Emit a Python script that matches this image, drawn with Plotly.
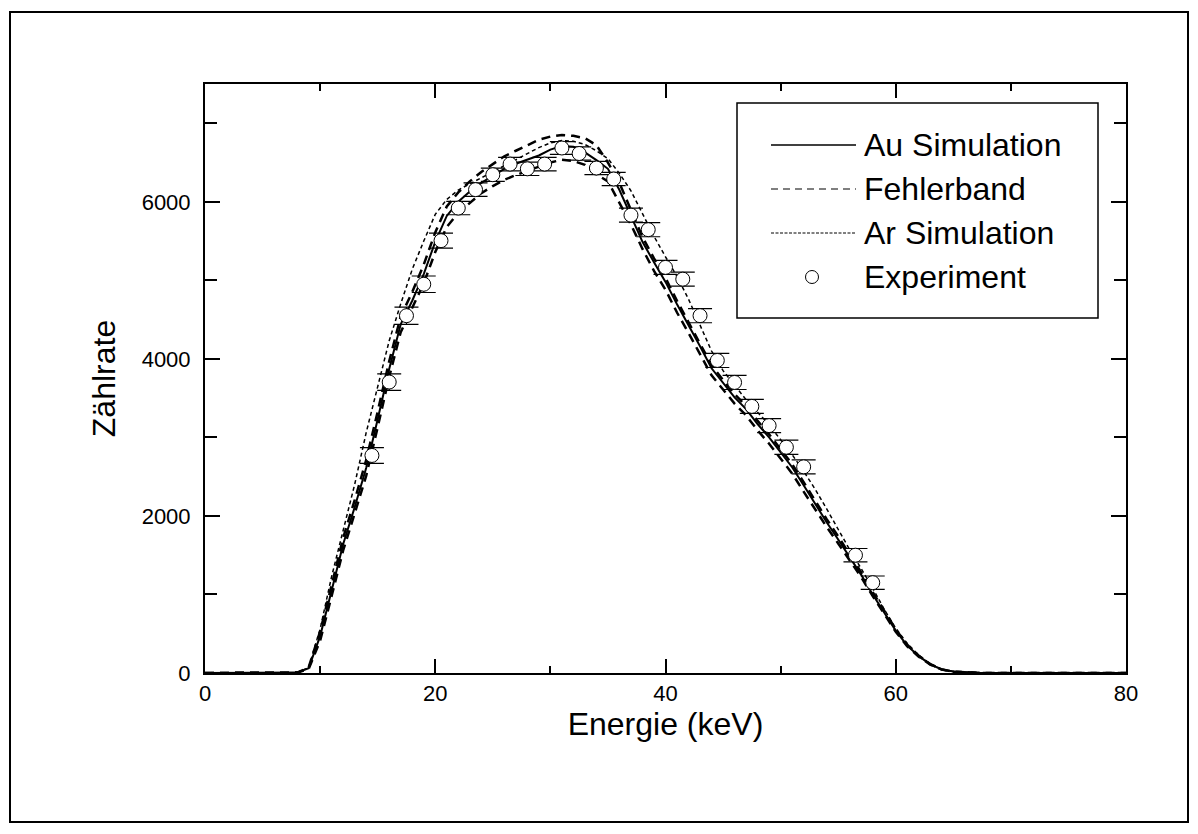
import plotly.graph_objects as go

# ---- data ----
energy = list(range(0, 81))

au_sim = [0, 0, 0, 0, 0, 0, 0, 8, 5, 60, 470, 1050, 1640, 2110, 2610, 3230, 3870, 4440, 4740, 5080,
          5490, 5820, 6000, 6130, 6240, 6330, 6420, 6485, 6540, 6590, 6665, 6710, 6700, 6630, 6530, 6420,
          6150, 5830, 5490, 5230, 4980, 4695, 4430, 4160, 3880, 3690, 3510, 3360, 3170, 3000, 2810,
          2620, 2390, 2150, 1920, 1700, 1480, 1250, 1000, 770, 540, 350, 215, 110, 45, 18, 8, 3,
          0, 0, 0, 0, 0, 0, 0, 0, 0, 0, 0, 0, 0]

band_upper = [0, 0, 0, 0, 0, 0, 0, 8, 5, 70, 530, 1120, 1720, 2200, 2710, 3330, 3970, 4540, 4850, 5200,
              5610, 5940, 6120, 6260, 6380, 6480, 6580, 6650, 6720, 6790, 6830, 6850, 6840, 6810, 6720, 6500,
              6240, 5900, 5550, 5280, 5030, 4740, 4470, 4200, 3920, 3730, 3550, 3400, 3210, 3040, 2850,
              2660, 2430, 2190, 1960, 1740, 1510, 1280, 1030, 790, 555, 360, 220, 113, 46, 18, 8, 3,
              0, 0, 0, 0, 0, 0, 0, 0, 0, 0, 0, 0, 0]

band_lower = [0, 0, 0, 0, 0, 0, 0, 8, 5, 50, 410, 980, 1560, 2030, 2510, 3130, 3770, 4340, 4640, 4960,
              5360, 5680, 5860, 5990, 6110, 6200, 6280, 6340, 6390, 6440, 6500, 6535, 6520, 6470, 6350, 6260,
              5990, 5710, 5400, 5120, 4880, 4590, 4330, 4060, 3790, 3610, 3430, 3280, 3090, 2920, 2730,
              2540, 2310, 2080, 1860, 1650, 1440, 1220, 980, 750, 525, 340, 208, 107, 44, 17, 8, 3,
              0, 0, 0, 0, 0, 0, 0, 0, 0, 0, 0, 0, 0]

ar_sim = [0, 0, 0, 0, 0, 0, 0, 8, 5, 70, 560, 1230, 1820, 2400, 3060, 3660, 4230, 4700, 5140, 5500,
          5840, 6030, 6150, 6230, 6300, 6380, 6460, 6540, 6620, 6690, 6750, 6780, 6770, 6730, 6650, 6550,
          6360, 6140, 5850, 5560, 5300, 5050, 4760, 4420, 4100, 3850, 3660, 3480, 3320, 3160, 2970,
          2780, 2570, 2340, 2090, 1830, 1570, 1330, 1080, 810, 570, 375, 228, 116, 48, 19, 8, 3,
          0, 0, 0, 0, 0, 0, 0, 0, 0, 0, 0, 0, 0]

exp_energy = [14.5, 16, 17.5, 19, 20.5, 22, 23.5, 25, 26.5, 28, 29.5, 31, 32.5, 34, 35.5, 37, 38.5,
              40, 41.5, 43, 44.5, 46, 47.5, 49, 50.5, 52, 56.5, 58]
exp_counts = [2770, 3705, 4550, 4950, 5505, 5920, 6155, 6345, 6480, 6420, 6480, 6685, 6615, 6430, 6290,
              5830, 5645, 5165, 5015, 4550, 3980, 3700, 3395, 3150, 2875, 2625, 1500, 1150]
exp_err = [100, 105, 110, 105, 95, 85, 85, 85, 85, 85, 85, 80, 85, 85, 85, 90, 90, 90, 90, 90, 90,
           90, 90, 90, 90, 90, 85, 85]

x_ticks = [0, 20, 40, 60, 80]
y_ticks = [0, 2000, 4000, 6000]

legend_labels = ["Au Simulation", "Fehlerband", "Ar Simulation", "Experiment"]

FONT = "Liberation Sans, Arial, sans-serif"

fig = go.Figure()

fig.add_trace(go.Scatter(x=energy, y=ar_sim, mode="lines", name=legend_labels[2],
                         line=dict(color="black", width=1.5, dash="4px,3px"), showlegend=False))
fig.add_trace(go.Scatter(x=energy, y=band_upper, mode="lines", name=legend_labels[1],
                         line=dict(color="black", width=2.5, dash="9px,6px"), showlegend=False))
fig.add_trace(go.Scatter(x=energy, y=band_lower, mode="lines", name=legend_labels[1],
                         line=dict(color="black", width=2.5, dash="9px,6px"), showlegend=False))
fig.add_trace(go.Scatter(x=energy, y=au_sim, mode="lines", name=legend_labels[0],
                         line=dict(color="black", width=2), showlegend=False))
fig.add_trace(go.Scatter(x=exp_energy, y=exp_counts, mode="markers", name=legend_labels[3],
                         marker=dict(symbol="circle", size=14, color="white",
                                     line=dict(color="black", width=1)),
                         error_y=dict(type="data", array=exp_err, color="black", thickness=1.2, width=12),
                         showlegend=False))

# ---- custom legend (box, samples, texts) ----
def px_x(p):
    return (p - 205) / 921.0

def px_y(p):
    return (673 - p) / 589.0

shapes = []
shapes.append(dict(type="rect", xref="paper", yref="paper", x0=px_x(737), x1=px_x(1098),
                   y0=px_y(318), y1=px_y(103), line=dict(color="black", width=1.5), fillcolor="white",
                   layer="above"))
rows = [145, 189, 233, 277]
styles = [dict(color="black", width=1.5), dict(color="black", width=1.2, dash="7px,5px"),
          dict(color="black", width=1, dash="3px,1.5px")]
for r, st in zip(rows[:3], styles):
    shapes.append(dict(type="line", xref="paper", yref="paper", x0=px_x(771), x1=px_x(856),
                       y0=px_y(r), y1=px_y(r), line=st, layer="above"))
shapes.append(dict(type="circle", xref="paper", yref="paper", xsizemode="pixel", ysizemode="pixel",
                   xanchor=px_x(812), yanchor=px_y(rows[3]), x0=-6.5, x1=6.5, y0=-6.5, y1=6.5,
                   line=dict(color="black", width=1), fillcolor="white", layer="above"))
# outer frame
shapes.append(dict(type="rect", xref="paper", yref="paper", x0=px_x(10), x1=px_x(1188),
                   y0=px_y(822), y1=px_y(12), line=dict(color="black", width=2), layer="below"))

annotations = []
for r, lab in zip(rows, legend_labels):
    annotations.append(dict(xref="paper", yref="paper", x=px_x(862), y=px_y(r), text=lab,
                            showarrow=False, xanchor="left", yanchor="middle",
                            font=dict(family=FONT, size=32, color="black")))

axis_common = dict(showline=True, linecolor="black", linewidth=2, mirror="ticks",
                   ticks="inside", tickcolor="black", tickwidth=2, showgrid=False, zeroline=False,
                   tickfont=dict(family=FONT, size=22, color="black"))

fig.update_layout(
    width=1198, height=834,
    margin=dict(l=205, r=72, t=84, b=161),
    paper_bgcolor="white", plot_bgcolor="white",
    showlegend=False,
    shapes=shapes, annotations=annotations,
    xaxis=dict(range=[0, 80], tickvals=x_ticks, ticklen=14,
               minor=dict(dtick=10, tick0=0, ticks="inside", ticklen=7, tickcolor="black", tickwidth=2),
               title=dict(text="Energie (keV)", font=dict(family=FONT, size=32, color="black"), standoff=4),
               **axis_common),
    yaxis=dict(range=[0, 7500], tickvals=y_ticks, ticklen=15,
               minor=dict(dtick=1000, tick0=0, ticks="inside", ticklen=12, tickcolor="black", tickwidth=2),
               ticklabelstandoff=8,
               title=dict(text="Zählrate", font=dict(family=FONT, size=32, color="black"), standoff=16),
               **axis_common),
)

fig.write_html("out.html")
